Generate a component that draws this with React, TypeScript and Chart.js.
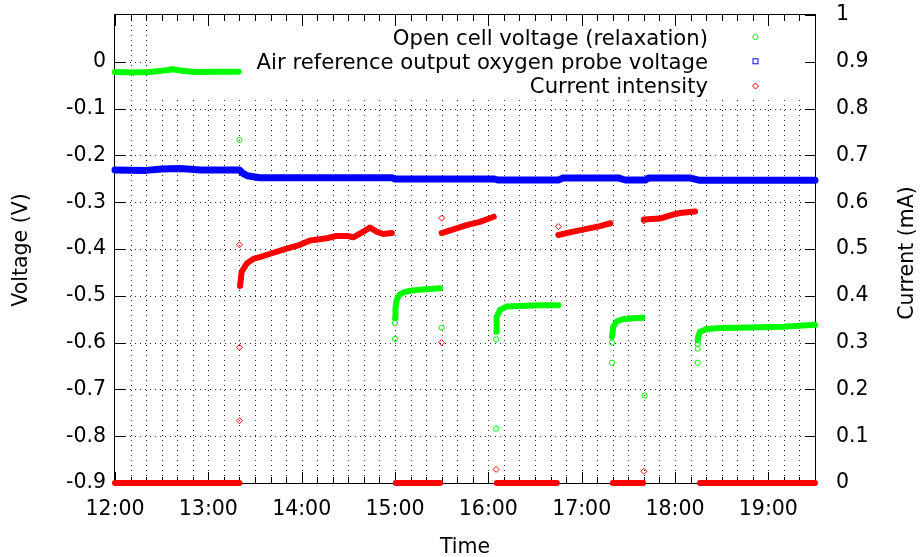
import React, { useEffect, useRef } from "react";
import { Chart, registerables } from "chart.js";

Chart.register(...registerables);

// ---------- data ----------
const xStart = "12:00";
const xEnd = "19:30";
const xTickLabels = ["12:00", "13:00", "14:00", "15:00", "16:00", "17:00", "18:00", "19:00"];
const xMinorStepMin = 10;

const voltTickValues = [-0.9, -0.8, -0.7, -0.6, -0.5, -0.4, -0.3, -0.2, -0.1, 0];
const voltTickLabels = ["-0.9", "-0.8", "-0.7", "-0.6", "-0.5", "-0.4", "-0.3", "-0.2", "-0.1", "0"];
const currentTickValues = [0, 0.1, 0.2, 0.3, 0.4, 0.5, 0.6, 0.7, 0.8, 0.9, 1];
const currentTickLabels = ["0", "0.1", "0.2", "0.3", "0.4", "0.5", "0.6", "0.7", "0.8", "0.9", "1"];

const seriesNames = [
  "Open cell voltage (relaxation)",
  "Air reference output oxygen probe voltage",
  "Current intensity",
];

// Open cell voltage (V) – dense runs (null = gap)
const ocvTime = [
  "12:00", "12:12", "12:22", "12:33", "12:37", "12:43", "12:52", "13:05", "13:19:30",
  "14:00",
  "15:00:00", "15:00:20", "15:01:00", "15:02:00", "15:03:12", "15:06:00", "15:10:00", "15:16:00", "15:24:30", "15:29:00",
  "15:45",
  "16:05:06", "16:05:12", "16:05:30", "16:07:30", "16:11:48", "16:20:24", "16:33:12", "16:45:00",
  "17:00",
  "17:19:30", "17:20:18", "17:22:30", "17:26:48", "17:33:12", "17:39:00",
  "18:00",
  "18:14:36", "18:15:00", "18:16:00", "18:20:24", "18:28:54", "18:48:12", "19:09:36", "19:30:00",
];
const ocvVolt = [
  -0.022, -0.023, -0.022, -0.018, -0.016, -0.019, -0.022, -0.021, -0.021,
  null,
  -0.548, -0.525, -0.51, -0.502, -0.497, -0.492, -0.489, -0.487, -0.485, -0.484,
  null,
  -0.577, -0.556, -0.545, -0.53, -0.523, -0.522, -0.52, -0.52,
  null,
  -0.588, -0.566, -0.555, -0.55, -0.548, -0.547,
  null,
  -0.595, -0.587, -0.577, -0.571, -0.569, -0.568, -0.566, -0.562,
];
// Open cell voltage – isolated samples
const ocvSparseTime = [
  "13:20", "15:00", "15:00", "15:30", "16:05", "16:05", "17:19:30", "17:19:30",
  "17:40:30", "18:14:36", "18:14:36", "18:14:36",
];
const ocvSparseVolt = [
  -0.167, -0.592, -0.558, -0.568, -0.593, -0.784, -0.643, -0.6,
  -0.713, -0.643, -0.613, -0.603,
];

// Air reference output oxygen probe voltage (V)
const airTime = [
  "12:00", "12:20", "12:30", "12:42", "12:55", "13:20", "13:22", "13:25", "13:33", "14:58",
  "15:00", "16:04", "16:06", "16:45", "16:48", "17:24", "17:28", "17:41", "17:43", "18:10",
  "18:16", "19:30",
];
const airVolt = [
  -0.231, -0.232, -0.229, -0.228, -0.231, -0.231, -0.238, -0.2435, -0.2476, -0.2476,
  -0.2505, -0.2505, -0.2526, -0.2526, -0.2485, -0.2485, -0.2526, -0.2526, -0.2485, -0.2485,
  -0.2532, -0.2532,
];

// Current intensity (mA) – dense runs (null = gap)
const curTime = [
  "12:00", "13:20",
  "13:20:12",
  "13:20:24", "13:21:24", "13:24:42", "13:28:54", "13:35:18", "13:41:48", "13:50:24", "13:58:54",
  "14:05:24", "14:16:06", "14:22:30", "14:29:00", "14:33:12", "14:39:36", "14:43:54", "14:48:12",
  "14:52:30", "14:58:00",
  "14:59",
  "15:00:30", "15:29:00",
  "15:29:30",
  "15:30:00", "15:37:30", "15:46:00", "15:54:36", "16:03:30",
  "16:04",
  "16:05:30", "16:44:00",
  "16:44:30",
  "16:45:00", "16:54:36", "17:03:12", "17:11:48", "17:18:30",
  "17:19",
  "17:20:00", "17:39:30",
  "17:39:45",
  "17:40:00", "17:50:18", "17:58:00", "18:03:12", "18:12:54",
  "18:14",
  "18:16:00", "19:30:00",
];
const curMilliAmp = [
  0, 0,
  null,
  0.421, 0.451, 0.469, 0.479, 0.485, 0.492, 0.501, 0.509,
  0.518, 0.523, 0.528, 0.528, 0.525, 0.537, 0.546, 0.537,
  0.532, 0.534,
  null,
  0, 0,
  null,
  0.534, 0.542, 0.551, 0.558, 0.569,
  null,
  0, 0,
  null,
  0.53, 0.537, 0.543, 0.549, 0.555,
  null,
  0, 0,
  null,
  0.563, 0.565, 0.573, 0.577, 0.58,
  null,
  0, 0,
];
// Current intensity – isolated samples
const curSparseTime = ["13:20", "13:20", "13:20", "15:30", "15:30", "16:05", "16:45", "17:40", "17:40"];
const curSparseMilliAmp = [0.133, 0.29, 0.509, 0.3, 0.566, 0.029, 0.548, 0.025, 0.56];

// ---------- helpers ----------
const FONT = "'DejaVu Sans', 'Liberation Sans', sans-serif";
const FS = 20.5;
const KEY_FS = 21.2;
const GREEN = "#00ff00";
const BLUE = "#0000ff";
const RED = "#ff0000";

function toMin(s: string): number {
  const p = s.split(":").map(Number);
  return (p[0] - 12) * 60 + p[1] + (p[2] || 0) / 60;
}
function pts(times: string[], vals: (number | null)[]) {
  return times.map((t, i) => ({ x: toMin(t), y: vals[i] }));
}

const framePlugin = {
  id: "gnuframe",
  beforeDatasetsDraw(chart: any) {
    const { ctx, chartArea, scales } = chart;
    const { left, right, top, bottom } = chartArea;
    const xs = scales.x;
    const ys = scales.y;
    const y2 = scales.y2;
    const x0 = toMin(xStart);
    const x1 = toMin(xEnd);
    ctx.save();

    // grid
    ctx.strokeStyle = "rgba(0,0,0,0.85)";
    ctx.lineWidth = 1;
    ctx.setLineDash([1, 4]);
    for (let m = x0 + xMinorStepMin; m < x1; m += xMinorStepMin) {
      const px = Math.round(xs.getPixelForValue(m)) + 0.5;
      ctx.beginPath();
      ctx.moveTo(px, top);
      ctx.lineTo(px, bottom);
      ctx.stroke();
    }
    for (const v of voltTickValues) {
      const py = Math.round(ys.getPixelForValue(v)) + 0.5;
      if (py > bottom - 1) continue;
      ctx.beginPath();
      ctx.moveTo(left, py);
      ctx.lineTo(right, py);
      ctx.stroke();
    }
    ctx.setLineDash([]);

    // key box (opaque)
    ctx.fillStyle = "#ffffff";
    ctx.fillRect(152, top, right - 152, 99 - top);

    // key text and symbols
    ctx.fillStyle = "#000";
    ctx.font = `${KEY_FS}px ${FONT}`;
    ctx.textAlign = "right";
    ctx.textBaseline = "alphabetic";
    const baselines = [44.5, 68.8, 93];
    const symY = [37, 61.3, 86];
    seriesNames.forEach((n, i) => ctx.fillText(n, 708, baselines[i]));
    const sx = 755.5;
    ctx.lineWidth = 1;
    ctx.strokeStyle = GREEN;
    ctx.beginPath();
    ctx.arc(sx, symY[0], 2.6, 0, Math.PI * 2);
    ctx.stroke();
    ctx.strokeStyle = BLUE;
    ctx.strokeRect(sx - 2.5, symY[1] - 2.5, 5, 5);
    ctx.strokeStyle = RED;
    ctx.beginPath();
    ctx.moveTo(sx, symY[2] - 3);
    ctx.lineTo(sx + 3, symY[2]);
    ctx.lineTo(sx, symY[2] + 3);
    ctx.lineTo(sx - 3, symY[2]);
    ctx.closePath();
    ctx.stroke();

    // border
    ctx.strokeStyle = "#000";
    ctx.lineWidth = 1;
    ctx.strokeRect(left - 0.5, top - 0.5, right - left + 1, bottom - top + 1);

    // tick marks (inward)
    ctx.beginPath();
    for (let m = x0; m <= x1 + 1e-6; m += xMinorStepMin) {
      const px = Math.round(xs.getPixelForValue(m)) + 0.5;
      const len = Math.abs(m % 60) < 1e-6 ? 11 : 6;
      ctx.moveTo(px, bottom);
      ctx.lineTo(px, bottom - len);
      ctx.moveTo(px, top);
      ctx.lineTo(px, top + len);
    }
    for (const v of voltTickValues) {
      const py = Math.round(ys.getPixelForValue(v)) + 0.5;
      ctx.moveTo(left, py);
      ctx.lineTo(left + 10, py);
    }
    for (const v of currentTickValues) {
      const py = Math.round(y2.getPixelForValue(v)) + 0.5;
      ctx.moveTo(right, py);
      ctx.lineTo(right - 10, py);
    }
    ctx.stroke();

    // axis titles
    ctx.fillStyle = "#000";
    ctx.font = `${FS}px ${FONT}`;
    ctx.textAlign = "center";
    ctx.textBaseline = "alphabetic";
    ctx.fillText("Time", (left + right) / 2, 553);
    ctx.save();
    ctx.translate(27, 250);
    ctx.rotate(-Math.PI / 2);
    ctx.fillText("Voltage (V)", 0, 0);
    ctx.restore();
    ctx.save();
    ctx.translate(913, 253);
    ctx.rotate(-Math.PI / 2);
    ctx.fillText("Current (mA)", 0, 0);
    ctx.restore();

    ctx.restore();
  },
};

function bandDataset(label: string, data: any[], color: string, width: number, axis: string) {
  return {
    label,
    data,
    yAxisID: axis,
    showLine: true,
    spanGaps: false,
    borderColor: color,
    backgroundColor: color,
    borderWidth: width,
    borderCapStyle: "round",
    borderJoinStyle: "round",
    pointRadius: 0,
    pointHoverRadius: 0,
    tension: 0,
    clip: false,
  };
}
function sparseDataset(label: string, data: any[], color: string, style: string, r: number, axis: string) {
  return {
    label,
    data,
    yAxisID: axis,
    showLine: false,
    borderColor: color,
    backgroundColor: "rgba(0,0,0,0)",
    borderWidth: 1,
    pointStyle: style,
    pointRadius: r,
    pointHoverRadius: r,
    clip: false,
  };
}

function zeroPad(s: any) {
  s.paddingTop = 0;
  s.paddingBottom = 0;
  s.paddingLeft = 0;
  s.paddingRight = 0;
}

export default function App() {
  const ref = useRef<HTMLCanvasElement | null>(null);
  useEffect(() => {
    if (!ref.current) return;
    const tickFont = { family: FONT, size: FS };
    const chart = new Chart(ref.current, {
      type: "scatter",
      data: {
        datasets: [
          bandDataset(seriesNames[2], pts(curTime, curMilliAmp), RED, 6, "y2"),
          sparseDataset(seriesNames[2], pts(curSparseTime, curSparseMilliAmp), RED, "rectRot", 3, "y2"),
          bandDataset(seriesNames[1], pts(airTime, airVolt), BLUE, 7, "y"),
          bandDataset(seriesNames[0], pts(ocvTime, ocvVolt), GREEN, 6, "y"),
          sparseDataset(seriesNames[0], pts(ocvSparseTime, ocvSparseVolt), GREEN, "circle", 2.6, "y"),
        ] as any,
      },
      options: {
        animation: false,
        responsive: false,
        maintainAspectRatio: false,
        events: [],
        layout: { padding: { top: 15, left: 0, right: 0, bottom: 0 } },
        plugins: { legend: { display: false }, tooltip: { enabled: false } },
        scales: {
          x: {
            type: "linear",
            min: toMin(xStart),
            max: toMin(xEnd),
            grid: { display: false, drawTicks: false, tickLength: 0 },
            border: { display: false },
            afterBuildTicks: (s: any) => {
              s.ticks = xTickLabels.map((l) => ({ value: toMin(l) }));
            },
            afterFit: (s: any) => {
              s.height = 74;
              zeroPad(s);
            },
            ticks: {
              autoSkip: false,
              maxRotation: 0,
              minRotation: 0,
              padding: 14,
              color: "#000",
              font: tickFont,
              callback: (_v: any, i: number) => xTickLabels[i],
            },
          },
          y: {
            type: "linear",
            position: "left",
            min: -0.9,
            max: 0.1,
            grid: { display: false, drawTicks: false, tickLength: 0 },
            border: { display: false },
            afterBuildTicks: (s: any) => {
              s.ticks = voltTickValues.map((v) => ({ value: v }));
            },
            afterFit: (s: any) => {
              s.width = 115;
              zeroPad(s);
            },
            ticks: {
              autoSkip: false,
              padding: 9,
              color: "#000",
              font: tickFont,
              callback: (_v: any, i: number) => voltTickLabels[i],
            },
          },
          y2: {
            type: "linear",
            position: "right",
            min: 0,
            max: 1,
            grid: { display: false, drawTicks: false, tickLength: 0 },
            border: { display: false },
            afterBuildTicks: (s: any) => {
              s.ticks = currentTickValues.map((v) => ({ value: v }));
            },
            afterFit: (s: any) => {
              s.width = 105;
              zeroPad(s);
            },
            ticks: {
              autoSkip: false,
              padding: 21,
              color: "#000",
              font: tickFont,
              callback: (_v: any, i: number) => currentTickLabels[i],
            },
          },
        },
      } as any,
      plugins: [framePlugin as any],
    });
    return () => chart.destroy();
  }, []);
  return (
    <div style={{ position: "absolute", left: 0, top: 0, width: 920, height: 557, background: "#fff" }}>
      <canvas ref={ref} width={920} height={557} style={{ display: "block", width: 920, height: 557 }} />
    </div>
  );
}
